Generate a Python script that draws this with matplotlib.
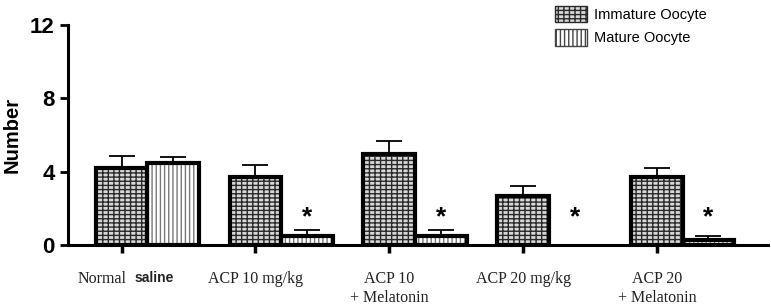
import numpy as np
import matplotlib
matplotlib.use("Agg")
import matplotlib.pyplot as plt
from matplotlib.patches import Patch
from matplotlib.transforms import blended_transform_factory

groups = ["Normal saline", "ACP 10 mg/kg", "ACP 10\n+ Melatonin", "ACP 20 mg/kg", "ACP 20\n+ Melatonin"]
immature = [4.2, 3.7, 4.95, 2.7, 3.7]
immature_err = [0.65, 0.65, 0.75, 0.5, 0.5]
mature = [4.45, 0.5, 0.5, 0.0, 0.25]
mature_err = [0.35, 0.3, 0.3, 0.0, 0.25]
star_groups = [1, 2, 3, 4]

plt.rcParams["font.family"] = ["Liberation Sans", "DejaVu Sans"]
plt.rcParams["hatch.linewidth"] = 1.0

fig = plt.figure(figsize=(7.71, 3.05), dpi=100)
ax = fig.add_axes([68 / 771, 60 / 305, 700 / 771, 220 / 305])

x = np.arange(len(groups))
w = 0.385
brick = "----|||"
vert = "||||"

# hatch fill first (hatch takes edge colour), then a thick black outline on top
ax.bar(x, immature, w, color="#d8d8d8", edgecolor="#2a2a2a", hatch=brick, linewidth=0, zorder=2)
ax.bar(x, immature, w, fill=False, edgecolor="black", linewidth=3, zorder=3)
ax.errorbar(x, immature, yerr=[np.zeros(len(x)), immature_err], fmt="none",
            ecolor="black", elinewidth=1.3, capsize=9.5, capthick=1.3, zorder=1)

xm = x + w
mat = np.array(mature)
ax.bar(xm, mat, w, color="white", edgecolor="#777777", hatch=vert, linewidth=0, zorder=2)
ax.bar(xm[mat > 0], mat[mat > 0], w, fill=False, edgecolor="black", linewidth=3, zorder=3)
ax.errorbar(xm[mat > 0], mat[mat > 0], yerr=[np.zeros((mat > 0).sum()), np.array(mature_err)[mat > 0]],
            fmt="none", ecolor="black", elinewidth=1.3, capsize=9.5, capthick=1.3, zorder=1)

for g in star_groups:
    ax.text(xm[g], 1.5, "*", ha="center", va="center", fontsize=19, fontweight="bold")

ax.set_xlim(-0.4, 4.83)
ax.set_ylim(0, 12)
ax.set_yticks([0, 4, 8, 12])
ax.tick_params(axis="y", labelsize=16, width=2, length=6)
for t in ax.get_yticklabels():
    t.set_fontweight("bold")
ax.set_xticks(x)
ax.set_xticklabels([""] + groups[1:], family="Liberation Serif", fontsize=11.5, color="#222222")
ax.tick_params(axis="x", width=2.5, length=6, pad=13)
ax.set_ylabel("Number", fontsize=14.5, fontweight="bold", labelpad=6)

for s in ["top", "right"]:
    ax.spines[s].set_visible(False)
for s in ["left", "bottom"]:
    ax.spines[s].set_linewidth(2.2)

trans = blended_transform_factory(ax.transData, ax.transAxes)
ax.text(x[0] + 0.04, -0.12, "Normal", transform=trans, ha="right", va="top",
        family="Liberation Serif", fontsize=11.5, color="#222222")
ax.text(x[0] + 0.1, -0.12, "saline", transform=trans, ha="left", va="top",
        fontsize=10, fontweight="bold", color="#222222")

handles = [Patch(facecolor="#d8d8d8", edgecolor="#2a2a2a", hatch=brick, linewidth=1),
           Patch(facecolor="white", edgecolor="#444444", hatch=vert, linewidth=1)]
fig.legend(handles, ["Immature Oocyte", "Mature Oocyte"], loc="upper left",
           bbox_to_anchor=(542 / 771, 1.025), frameon=False, fontsize=10.5,
           handlelength=2.2, handleheight=1.4, handletextpad=0.5, labelspacing=0.45)

fig.savefig("out.png", dpi=100)
